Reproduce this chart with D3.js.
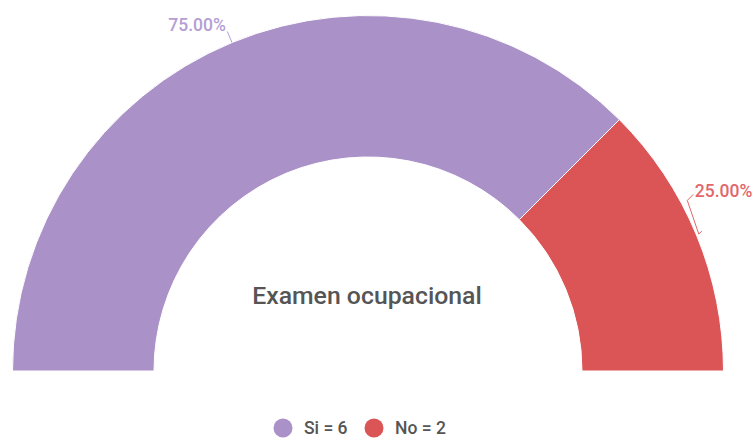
<!DOCTYPE html>
<html><head><meta charset="utf-8">
<script src="https://cdn.jsdelivr.net/npm/d3@7"></script>
<style>html,body{margin:0;padding:0;background:#fff;}svg{display:block;font-family:Roboto,"Noto Sans",sans-serif;}</style>
</head><body>
<svg id="chart" width="755" height="438"></svg>
<script>
const categories = ["Si", "No"];
const values = [6, 2];
const colors = ["#aa91c8", "#db5456"];
const labelColors = ["#b49ed5", "#e2676a"];
const title = "Examen ocupacional";

const cx = 368, cy = 371, R = 355.5, r0 = 214;
const svg = d3.select("#chart");
const g = svg.append("g").attr("transform", `translate(${cx},${cy})`);
const total = d3.sum(values);
const pie = d3.pie().sort(null).startAngle(-Math.PI/2).endAngle(Math.PI/2);
const arcs = pie(values);
const arc = d3.arc().innerRadius(r0).outerRadius(R);
g.selectAll("path.slice").data(arcs).join("path")
  .attr("class","slice")
  .attr("d", arc)
  .attr("fill", (d,i)=>colors[i])
  .attr("stroke","#fff").attr("stroke-width",1);

const fmt = v => (v/total*100).toFixed(2) + "%";
const polar = (a, rad) => [rad*Math.sin(a), -rad*Math.cos(a)];
const mid = d => (d.startAngle + d.endAngle)/2;

// Si label: radial leader
{
  const a = mid(arcs[0]);
  const p0 = polar(a, R), p1 = polar(a, R+12);
  g.append("line").attr("x1",p0[0]).attr("y1",p0[1]).attr("x2",p1[0]).attr("y2",p1[1])
    .attr("stroke",labelColors[0]).attr("stroke-width",1);
  g.append("text").attr("x",p1[0]-1.5).attr("y",p1[1]-0.5).attr("text-anchor","end")
    .attr("fill",labelColors[0]).attr("font-size",17.5).attr("font-weight",500)
    .text(fmt(values[0]));
}
// No label: bracket leader
{
  const a = mid(arcs[1]);
  const bTop = polar(a-0.098, R+6.5);
  const bBot = polar(a, R+2.5);
  const tick = polar(a-0.004, R+6.5);
  const t = [bTop[0]+6, bTop[1]-6];
  g.append("path")
    .attr("d", d3.line()([t, bTop, bBot, tick]))
    .attr("fill","none").attr("stroke",labelColors[1]).attr("stroke-width",1);
  g.append("text").attr("x",t[0]+1.5).attr("y",t[1]+3)
    .attr("fill",labelColors[1]).attr("font-size",17.5).attr("font-weight",500)
    .text(fmt(values[1]));
}

// title
svg.append("text").attr("x",cx-1).attr("y",303.5).attr("text-anchor","middle")
  .attr("fill","#555").attr("font-size",24.8).attr("font-weight",500).text(title);

// legend
const legend = svg.append("g").attr("transform","translate(0,428)");
const items = categories.map((c,i)=>({label:`${c} = ${values[i]}`, color:colors[i]}));
const lx0 = [283, 374];
items.forEach((it,i)=>{
  legend.append("circle").attr("cx",lx0[i]).attr("cy",0).attr("r",9.5).attr("fill",it.color);
  legend.append("text").attr("x",lx0[i]+21).attr("y",6).attr("fill","#555")
    .attr("font-size",17.5).attr("font-weight",500).text(it.label);
});
</script>
</body></html>
